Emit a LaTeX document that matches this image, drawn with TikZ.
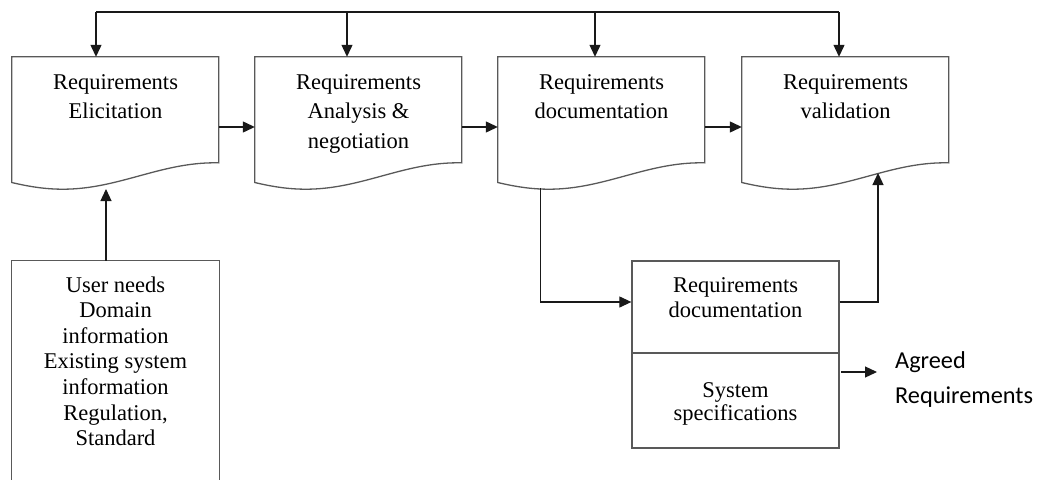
\documentclass[tikz,border=0pt]{standalone}
\usepackage{fontspec}
\setmainfont{Liberation Serif}
\newfontfamily\agfont{Carlito}
\usetikzlibrary{arrows.meta,calc}
\begin{document}
\begin{tikzpicture}[x=1pt,y=-1pt,
  outl/.style={draw=black!65,line width=1.3pt},
  conn/.style={draw=black!90,line width=1.2pt},
  arr/.style={conn,-{Triangle[length=12pt,width=11pt]}},
  lbl/.style={font=\fontsize{22.5}{29.5}\selectfont,align=center,inner sep=0pt,anchor=base},
  frame/.style={minimum width=207pt,minimum height=124pt,inner sep=0pt,draw=none},
  boxf/.style={minimum width=207pt,inner sep=0pt,outl}
]
\useasboundingbox (0,0) rectangle (1038,479);
% document-shaped frames
\foreach \nm/\cx in {b1/115.5,b2/358.5,b3/601.5,b4/845.5}{
  \node[frame] (\nm) at (\cx,119) {};
  \begin{scope}[shift={(\nm.north west)}]
    \draw[outl] (0,0) -- (207,0) -- plot[domain=207:0,samples=60] (\x,{119.2+13.2*cos(1.18421*(\x-51))}) -- cycle;
  \end{scope}
}
% (anchor=base refers to the baseline of the last line)
\node[lbl] (t1) at (115.5,118.5) {Requirements\\Elicitation};
\node[lbl] (t2) at (358.5,148) {Requirements\\Analysis \&\\negotiation};
\node[lbl] (t3) at (601.5,118.5) {Requirements\\documentation};
\node[lbl] (t4) at (845.5,118.5) {Requirements\\validation};

% top feedback line
\coordinate (k1) at (96,12);
\coordinate (k2) at (347,12);
\coordinate (k3) at (595,12);
\coordinate (k4) at (839,12);
\draw[conn] (k1) -- (k4);
\draw[arr] (k1) -- (k1 |- b1.north);
\draw[arr] (k2) -- (k2 |- b2.north);
\draw[arr] (k3) -- (k3 |- b3.north);
\draw[arr] (k4) -- (k4 |- b4.north);

% horizontal arrows
\coordinate (hy) at (0,127);
\draw[arr] (b1.east |- hy) -- (b2.west |- hy);
\draw[arr] (b2.east |- hy) -- (b3.west |- hy);
\draw[arr] (b3.east |- hy) -- (b4.west |- hy);

% source box (cut off at the bottom)
\node[minimum width=207pt,minimum height=220pt,inner sep=0pt] (src) at (115.5,371) {};
\draw[outl] (src.south west) -- (src.north west) -- (src.north east) -- (src.south east);
\node[lbl,font=\fontsize{22.5}{25.6}\selectfont] (st) at (115.5,445.6) {User needs\\Domain\\information\\Existing system\\information\\Regulation,\\Standard};
\coordinate (ax) at (106,189);
\draw[arr] (ax |- src.north) -- (ax);

% specification box
\node[boxf,minimum height=92pt] (sp1) at (735.5,307) {};
\node[boxf,minimum height=95pt] (sp2) at (735.5,400.5) {};
\node[lbl,font=\fontsize{22.5}{25}\selectfont] (s1t) at (735.5,317) {Requirements\\documentation};
\node[lbl,font=\fontsize{22.5}{23.5}\selectfont] (s2t) at (735.5,420.5) {System\\specifications};

\coordinate (d3) at (540.7,188);
\coordinate (py) at (0,302);
\draw[arr] (d3) |- (sp1.west |- py);
\coordinate (u4) at (878,173);
\draw[arr] (sp1.east |- py) -| (u4);

% agreed requirements
\coordinate (g1) at (841,372);
\coordinate (g2) at (877,372);
\draw[arr] (g1) -- (g2);
\node[anchor=base west,align=left,inner sep=0pt,font=\agfont\fontsize{24.3}{35}\selectfont] (ag) at (895,403) {Agreed\\Requirements};
\end{tikzpicture}
\end{document}
